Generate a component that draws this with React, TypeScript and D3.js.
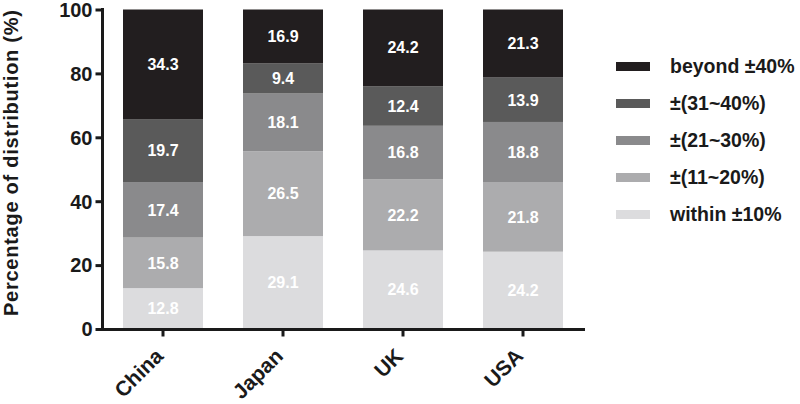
import React, { useEffect, useRef } from "react";
import * as d3 from "d3";

const countries = ["China", "Japan", "UK", "USA"];
const groups = ["within ±10%", "±(11~20%)", "±(21~30%)", "±(31~40%)", "beyond ±40%"];
const within10 = [12.8, 29.1, 24.6, 24.2];
const from11to20 = [15.8, 26.5, 22.2, 21.8];
const from21to30 = [17.4, 18.1, 16.8, 18.8];
const from31to40 = [19.7, 9.4, 12.4, 13.9];
const beyond40 = [34.3, 16.9, 24.2, 21.3];
const yTicks = [0, 20, 40, 60, 80, 100];
const colors = ["#dcdcde", "#acacae", "#8a8a8c", "#5a5a5a", "#221e1f"];

const FONT = "'Liberation Sans', Arial, Helvetica, sans-serif";

export default function App() {
	const ref = useRef<SVGSVGElement>(null);

	useEffect(() => {
		const svg = d3.select(ref.current);
		svg.selectAll("*").remove();

		const series = [within10, from11to20, from21to30, from31to40, beyond40];
		const rows = countries.map((c, i) => {
			const r: any = { country: c };
			groups.forEach((g, k) => (r[g] = series[k][i]));
			return r;
		});
		const stacked = d3.stack().keys(groups)(rows);

		const x = d3
			.scaleBand()
			.domain(countries)
			.range([103, 583])
			.paddingInner(1 / 3)
			.paddingOuter(1 / 6);
		const y = d3.scaleLinear().domain([0, 100]).range([329, 9.5]).clamp(true);

		// bars
		stacked.forEach((layer, k) => {
			const g = svg.append("g");
			g.selectAll("rect")
				.data(layer)
				.enter()
				.append("rect")
				.attr("x", (d: any) => x(d.data.country))
				.attr("y", (d) => y(d[1]))
				.attr("width", x.bandwidth())
				.attr("height", (d) => y(d[0]) - y(d[1]))
				.attr("fill", colors[k]);
			g.selectAll("text")
				.data(layer)
				.enter()
				.append("text")
				.attr("x", (d: any) => x(d.data.country)! + x.bandwidth() / 2)
				.attr("y", (d) => y((d[0] + d[1]) / 2))
				.attr("dy", "0.36em")
				.attr("text-anchor", "middle")
				.attr("fill", "#fff")
				.attr("font-family", FONT)
				.attr("font-weight", "bold")
				.attr("font-size", 16)
				.text((d: any) => d.data[groups[k]].toFixed(1));
		});

		// y axis
		const yAxis = svg
			.append("g")
			.attr("transform", "translate(102.5,0)")
			.call(d3.axisLeft(y).tickValues(yTicks).tickSize(7).tickPadding(3).tickFormat(d3.format("d")));
		yAxis.select(".domain").attr("stroke", "#1a1a1a").attr("stroke-width", 3).attr("d", "M0,8V330.5");
		yAxis.selectAll(".tick line").attr("stroke", "#1a1a1a").attr("stroke-width", 3);
		yAxis
			.selectAll(".tick text")
			.attr("font-family", FONT)
			.attr("font-weight", "bold")
			.attr("font-size", 20)
			.attr("dy", "0.34em")
			.attr("fill", "#1a1a1a");

		// x axis
		const xAxis = svg
			.append("g")
			.attr("transform", "translate(0,329.5)")
			.call(d3.axisBottom(x).tickSize(7).tickFormat(() => ""));
		xAxis.select(".domain").attr("stroke", "#1a1a1a").attr("stroke-width", 3).attr("d", "M101,0H585");
		xAxis.selectAll(".tick line").attr("stroke", "#1a1a1a").attr("stroke-width", 3);

		svg.append("g")
			.selectAll("text")
			.data(countries)
			.enter()
			.append("text")
			.attr("transform", (d) => `translate(${x(d)! + x.bandwidth() / 2 - 9},${347}) rotate(-45)`)
			.attr("text-anchor", "end")
			.attr("dy", "0.7em")
			.attr("font-family", FONT)
			.attr("font-weight", "bold")
			.attr("font-size", 21)
			.attr("fill", "#1a1a1a")
			.text((d) => d);

		// y title
		svg.append("text")
			.attr("transform", "translate(18,163) rotate(-90)")
			.attr("text-anchor", "middle")
			.attr("font-family", FONT)
			.attr("font-weight", "bold")
			.attr("font-size", 20)
			.attr("textLength", 306)
			.attr("fill", "#1a1a1a")
			.text("Percentage of distribution (%)");

		// legend
		const legend = svg
			.append("g")
			.selectAll("g")
			.data(groups.slice().reverse())
			.enter()
			.append("g")
			.attr("transform", (d, i) => `translate(616,${66 + i * 37})`);
		legend
			.append("rect")
			.attr("y", -4)
			.attr("width", 34)
			.attr("height", 9)
			.attr("fill", (d) => colors[groups.indexOf(d)]);
		legend
			.append("text")
			.attr("x", 54)
			.attr("dy", "0.36em")
			.attr("font-family", FONT)
			.attr("font-weight", "bold")
			.attr("font-size", 19.5)
			.attr("fill", "#1a1a1a")
			.text((d) => d);
	}, []);

	return (
		<div style={{ position: "absolute", left: 0, top: 0 }}>
			<svg ref={ref} width={800} height={404} style={{ display: "block", background: "#fff" }}></svg>
		</div>
	);
}
